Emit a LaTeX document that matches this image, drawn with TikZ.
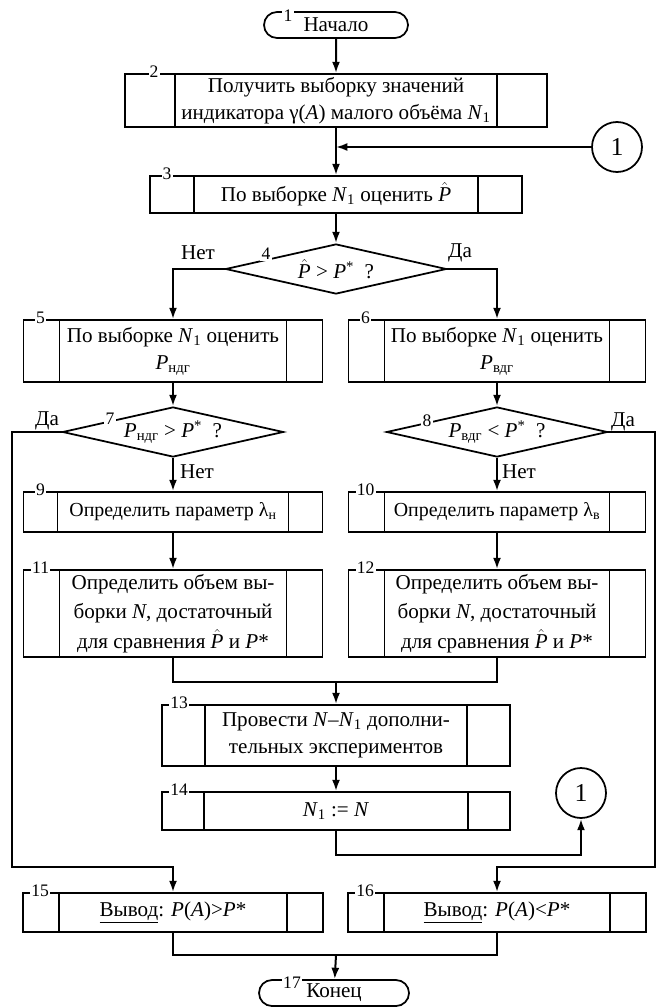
\documentclass[tikz,border=0pt]{standalone}
\usepackage{fontspec}
\setmainfont{Liberation Serif}
\usetikzlibrary{arrows.meta,calc,shapes.geometric,shapes.misc}

\newcommand{\iP}{\textit{P}}
\newcommand{\iN}{\textit{N}}
\newcommand{\iNo}{\textit{N}\textsubscript{1}}
\newcommand{\hP}{$\hat{\textit{P}}$}

\tikzset{
  every node/.style={font=\fontsize{18}{23}\selectfont},
  blk/.style={draw,line width=1.5pt,rectangle,inner sep=0pt,align=center},
  sub/.style={blk,path picture={
      \draw[line width=1.5pt] ([xshift=#1*0.3mm]path picture bounding box.north west) -- ([xshift=#1*0.3mm]path picture bounding box.south west);
      \draw[line width=1.5pt] ([xshift=-#1*0.3mm]path picture bounding box.north east) -- ([xshift=-#1*0.3mm]path picture bounding box.south east);}},
  sz/.style 2 args={minimum width=#1*0.3mm,minimum height=#2*0.3mm},
  term/.style={draw,line width=1.5pt,rounded rectangle,inner sep=0pt},
  cond/.style={draw,line width=1.5pt,diamond,inner sep=0pt},
  conn/.style={draw,line width=1.5pt,circle,inner sep=0pt,minimum size=50*0.3mm,font=\fontsize{22}{22}\selectfont},
  num/.style={fill=white,inner sep=1pt,font=\fontsize{15}{15}\selectfont},
  line/.style={line width=1.7pt},
}

\begin{document}
\begin{tikzpicture}[x=0.3mm,y=-0.3mm,>={Latex[length=3.4mm,width=2.4mm]}]
  \useasboundingbox (0,0) rectangle (659,1008);

  % main column
  \node[term,sz={144}{26}] (t1) at (336,25) {Начало};
  \node[sub=50,sz={422}{53}] (b2) at (336,100.5) {Получить выборку значений\\индикатора γ(\textit{A}) малого объёма \iNo};
  \node[conn] (c1) at (617,147) {1};
  \node[sub=44,sz={372}{37}] (b3) at (336,194.5) {По выборке \iNo{} оценить \hP};
  \node[cond,sz={221}{50}] (d4) at (336,269) {};
  \node (q4) at (d4) {\hP{} > \iP\textsuperscript{*}\ \ ?};

  % two branches
  \node[sub=36,sz={299}{62}] (b5) at (173,351) {По выборке \iNo{} оценить\\\iP\textsubscript{ндг}};
  \node[sub=36,sz={297}{62}] (b6) at (497,351) {По выборке \iNo{} оценить\\\iP\textsubscript{вдг}};
  \node[cond,sz={221}{50}] (d7) at (173,432) {};
  \node (q7) at (d7) {\iP\textsubscript{ндг} > \iP\textsuperscript{*}\ \ ?};
  \node[cond,sz={221}{50}] (d8) at (497,432) {};
  \node (q8) at (d8) {\iP\textsubscript{вдг} < \iP\textsuperscript{*}\ \ ?};
  \node[sub=34,sz={299}{40},font=\fontsize{17}{21}\selectfont] (b9) at (173,512) {Определить параметр λ\textsubscript{н}};
  \node[sub=36,sz={297}{40},font=\fontsize{17}{21}\selectfont] (b10) at (497,512) {Определить параметр λ\textsubscript{в}};
  \node[sub=36,sz={299}{87},font=\fontsize{18}{25}\selectfont] (b11) at (173,613.5)
    {Определить объем вы-\\борки \iN, достаточный\\для сравнения \hP{} и \iP*};
  \node[sub=36,sz={297}{87},font=\fontsize{18}{25}\selectfont] (b12) at (497,613.5)
    {Определить объем вы-\\борки \iN, достаточный\\для сравнения \hP{} и \iP*};

  \node[sub=43,sz={348}{61}] (b13) at (336,735.5) {Провести \iN–\iNo{} дополни-\\тельных экспериментов};
  \node[sub=42,sz={348}{38}] (b14) at (336,811) {\iNo{} := \iN};
  \node[conn] (c2) at (581,793) {1};

  \node[sub=36,sz={300}{39}] (b15) at (173,912.5) {\underline{Вывод}: \iP(\textit{A})>\iP*};
  \node[sub=36,sz={298}{39}] (b16) at (497,912.5) {\underline{Вывод}: \iP(\textit{A})<\iP*};
  \node[term,sz={150}{26}] (t17) at (334,993) {Конец};

  % numbers
  \node[num] (l2) at ($(b2.north west)+(30,-1)$) {2};
  \foreach \b/\n in {b3/3,b5/5,b6/6,b9/9,b10/10,b11/11,b12/12,b13/13,b14/14,b15/15,b16/16}
    \node[num] (l\n) at ($(\b.north west)+(18,-1)$) {\n};
  \node[num] (l1) at (288,16) {1};
  \node[num] (l17) at (292,983) {17};
  \node[num] (l4) at (266,254) {4};
  \node[num] (l7) at (110,419) {7};
  \node[num] (l8) at (427,421) {8};

  % yes / no
  \node (n4) at (198,253) {Нет};
  \node (y4) at (460,253) {Да};
  \node (y7) at (47,421) {Да};
  \node (n7) at (197,472) {Нет};
  \node (y8) at (623,422) {Да};
  \node (n8) at (519,472) {Нет};

  % connectors
  \coordinate (m1) at (336,682);
  \coordinate (m2) at (336,855);
  \coordinate (m3) at (336,955);
  \coordinate (lft) at (12,867);
  \coordinate (rgt) at (655,867);
  \draw[line,->] (t1) -- (b2);
  \draw[line,->] (b2) -- (b3);
  \draw[line,->] (c1) -- (c1 -| b2);
  \draw[line,->] (b3) -- (d4);
  \draw[line,->] (d4.west) -| (b5.north);
  \draw[line,->] (d4.east) -| (b6.north);
  \draw[line,->] (b5) -- (d7);
  \draw[line,->] (b6) -- (d8);
  \draw[line,->] (d7) -- (b9);
  \draw[line,->] (d8) -- (b10);
  \draw[line,->] (b9) -- (b11);
  \draw[line,->] (b10) -- (b12);
  \draw[line] (b11.south) |- (m1) -| (b12.south);
  \draw[line,->] (m1) -- (b13);
  \draw[line,->] (b13) -- (b14);
  \draw[line,->] (b14.south) -- (m2) -| (c2.south);
  \draw[line,->] (d7.west) -| (lft) -| (b15.north);
  \draw[line,->] (d8.east) -| (rgt) -| (b16.north);
  \draw[line] (b15.south) |- (m3) -| (b16.south);
  \draw[line,->] (m3) -- (t17);
\end{tikzpicture}
\end{document}
